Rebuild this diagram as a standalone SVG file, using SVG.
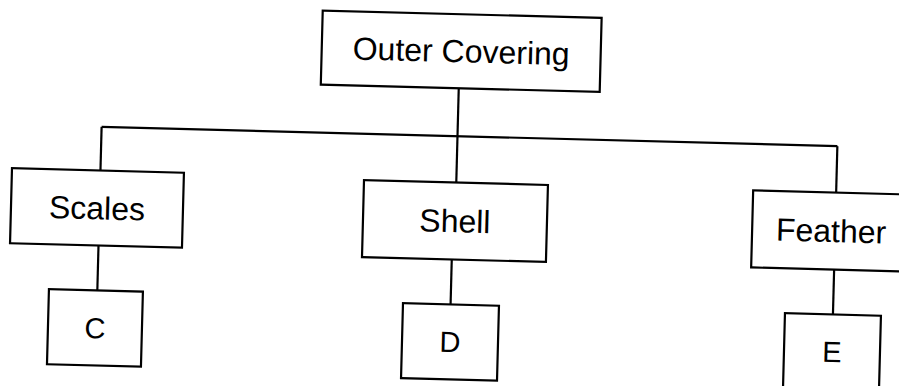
<svg xmlns="http://www.w3.org/2000/svg" width="899" height="386" viewBox="0 0 899 386">
<style>
.box{fill:#fff;stroke:#000;stroke-width:2.2}
.lbl{font-family:"Liberation Sans",Arial,sans-serif;font-size:32px;fill:#000;text-anchor:middle}
.big{font-size:29px}
.conn{stroke:#000;stroke-width:2.2;fill:none}
</style>
<rect width="899" height="386" fill="#fff"/>
<g transform="rotate(1.5 450 193)">
<g id="connectors">
<line class="conn" x1="456" y1="88" x2="456" y2="182.4"/>
<line class="conn" x1="100" y1="136" x2="836" y2="136"/>
<line class="conn" x1="100" y1="136" x2="100" y2="179.7"/>
<line class="conn" x1="836" y1="136" x2="836" y2="182.5"/>
<line class="conn" x1="100" y1="254.7" x2="100" y2="299.7"/>
<line class="conn" x1="453.5" y1="259.4" x2="453.5" y2="304.4"/>
<line class="conn" x1="836" y1="259.5" x2="836" y2="304.4"/>
</g>
<g id="outer-covering">
<rect class="box" x="318" y="14" width="279" height="74"/>
<text class="lbl" x="457.5" y="62">Outer Covering</text>
</g>
<g id="scales">
<rect class="box" x="11.5" y="179.7" width="172" height="75"/>
<text class="lbl" x="97.5" y="228.5">Scales</text>
</g>
<g id="shell">
<rect class="box" x="363.7" y="182.4" width="184" height="77"/>
<text class="lbl" x="455.7" y="232">Shell</text>
</g>
<g id="feather">
<rect class="box" x="753" y="182.5" width="158" height="77"/>
<text class="lbl" x="832" y="232">Feather</text>
</g>
<g id="c">
<rect class="box" x="51.6" y="299.7" width="94" height="75"/>
<text class="lbl big" x="98.6" y="347.5">C</text>
</g>
<g id="d">
<rect class="box" x="405.9" y="304.4" width="96" height="75"/>
<text class="lbl big" x="453.9" y="352">D</text>
</g>
<g id="e">
<rect class="box" x="788" y="304.4" width="96" height="75"/>
<text class="lbl big" x="836" y="352">E</text>
</g>
</g>
</svg>
